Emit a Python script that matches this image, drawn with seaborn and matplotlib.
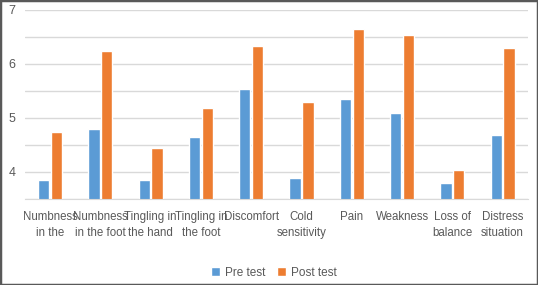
import numpy as np
import pandas as pd
import seaborn as sns
import matplotlib.pyplot as plt
from matplotlib.patches import Rectangle

# data
categories = ['Numbness\nin the', 'Numbness\nin the foot', 'Tingling in\nthe hand', 'Tingling in\nthe foot',
              'Discomfort', 'Cold\nsensitivity', 'Pain', 'Weakness', 'Loss of\nbalance', 'Distress\nsituation']
pre_test = [3.85, 4.79, 3.85, 4.64, 5.54, 3.89, 5.35, 5.09, 3.80, 4.69]
post_test = [4.74, 6.24, 4.44, 5.19, 6.33, 5.29, 6.64, 6.54, 4.04, 6.29]
series = ['Pre test', 'Post test']
colors = ['#5B9BD5', '#ED7D31']

df = pd.DataFrame({'category': categories * 2,
                   'value': pre_test + post_test,
                   'series': [series[0]] * len(categories) + [series[1]] * len(categories)})

sns.set_style('white')
plt.rcParams['font.family'] = ['Liberation Sans', 'DejaVu Sans']

fig = plt.figure(figsize=(5.38, 2.85), dpi=100)
ax = fig.add_axes([0.0465, 0.302, 0.9345, 0.663])

sns.barplot(data=df, x='category', y='value', hue='series', palette=colors,
            width=0.51, gap=0.12, ax=ax, saturation=1, legend=True)

ax.set_ylim(3.5, 7)
ax.set_yticks([4, 5, 6, 7])
ax.set_yticks(np.arange(3.5, 7.01, 0.5), minor=True)
ax.grid(axis='y', which='both', color='#D9D9D9', linewidth=1)
ax.set_axisbelow(True)
for s in ['top', 'right', 'left']:
    ax.spines[s].set_visible(False)
ax.spines['bottom'].set_color('#D9D9D9')
ax.tick_params(axis='y', which='both', length=0, labelsize=9, labelcolor='#595959', pad=7)
ax.tick_params(axis='x', length=0, labelsize=8.3, labelcolor='#595959', pad=9)
for lab in ax.get_xticklabels():
    lab.set_multialignment('center')
    lab.set_linespacing(1.4)
ax.set_xlim(-0.5, len(categories) - 0.5)
ax.set_xlabel('')
ax.set_ylabel('')

ax.legend(loc='center', bbox_to_anchor=(0.495, -0.39), ncol=2, frameon=False,
          fontsize=8.5, handlelength=0.75, handleheight=0.75, handletextpad=0.4,
          columnspacing=1.0, labelcolor='#595959')

# dark frame around the whole picture
fig.patches.append(Rectangle((0, 0), 1, 1, transform=fig.transFigure, fill=False,
                             edgecolor='#595959', linewidth=2.5))

fig.savefig('out.png', dpi=100, facecolor='white')
